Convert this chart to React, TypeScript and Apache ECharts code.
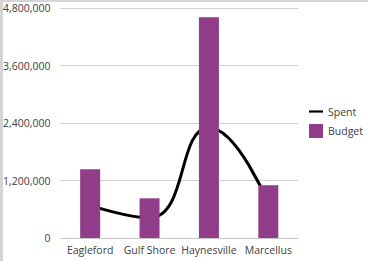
import React, { useEffect, useRef } from "react";
import * as echarts from "echarts";

const categories = ["Eagleford", "Gulf Shore", "Haynesville", "Marcellus"];
const budget = [1434000, 828000, 4606000, 1100000];
const spent = [680000, 420000, 2300000, 720000];
const yTicks = [0, 1200000, 2400000, 3600000, 4800000];

const FONT = "'Open Sans', 'Noto Sans', sans-serif";

export default function App() {
  const ref = useRef<HTMLDivElement>(null);
  useEffect(() => {
    if (!ref.current) return;
    const chart = echarts.init(ref.current, undefined, { renderer: "svg" });
    chart.setOption({
      animation: false,
      textStyle: { fontFamily: FONT },
      grid: { left: 59, right: 70, top: 8, bottom: 23, containLabel: false },
      legend: {
        orient: "vertical",
        left: 309,
        top: 106,
        padding: 0,
        itemWidth: 14,
        itemHeight: 14,
        itemGap: 7,
        textStyle: { fontFamily: FONT, fontSize: 10.5, color: "#404040", padding: [0, 0, 0, 0] },
        data: [
          { name: "Spent", icon: "path://M0,0 H14 V2.2 H0 Z", itemStyle: { color: "#000" } },
          { name: "Budget", icon: "rect" },
        ],
      },
      xAxis: {
        type: "category",
        data: categories,
        axisLine: { lineStyle: { color: "#c8c8c8" } },
        axisTick: { show: false },
        axisLabel: { fontFamily: FONT, fontSize: 10.5, color: "#404040", margin: 6, interval: 0 },
      },
      yAxis: {
        type: "value",
        min: yTicks[0],
        max: yTicks[yTicks.length - 1],
        interval: yTicks[1] - yTicks[0],
        axisLine: { show: false },
        axisTick: { show: false },
        splitLine: { lineStyle: { color: "#d0d0d0" } },
        axisLabel: {
          fontFamily: FONT,
          fontSize: 10.5,
          color: "#404040",
          margin: 10,
          formatter: (v: number) => v.toLocaleString("en-US"),
        },
      },
      series: [
        {
          name: "Spent",
          type: "line",
          data: spent,
          smooth: 0.5,
          symbol: "none",
          z: 2,
          lineStyle: { color: "#000000", width: 3 },
          itemStyle: { color: "#000000" },
        },
        {
          name: "Budget",
          type: "bar",
          data: budget,
          barWidth: 20,
          z: 3,
          itemStyle: { color: "#913d8a" },
        },
      ],
    });
    return () => chart.dispose();
  }, []);
  return (
    <div
      style={{
        position: "fixed",
        left: 0,
        top: 0,
        width: 368,
        height: 261,
        background: "#fff",
        boxSizing: "border-box",
        borderLeft: "3px solid #d4d4d4",
        borderTop: "2px solid #d4d4d4",
      }}
    >
      <div ref={ref} style={{ position: "absolute", left: -3, top: -2, width: 368, height: 261 }} />
    </div>
  );
}
